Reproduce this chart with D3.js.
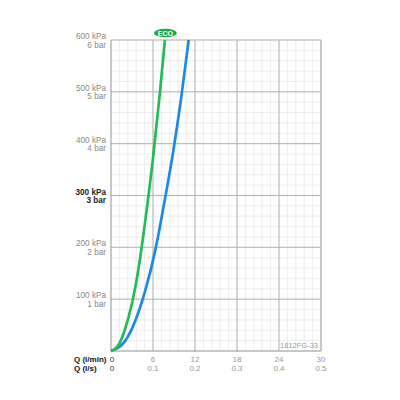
<!DOCTYPE html>
<html>
<head>
<meta charset="utf-8">
<script src="https://cdn.jsdelivr.net/npm/d3@7"></script>
<style>
  body { margin: 0; background: #fff; }
  text { font-family: "Liberation Sans", Arial, sans-serif; }
</style>
</head>
<body>
<div class="chart"></div>
<script>
const WIDTH = 400;
const HEIGHT = 400;
const LEFT = 111, RIGHT = 321, TOP = 40, BOTTOM = 351;

// pressure ticks (kPa) and their bar labels
var pressureTicks = [100, 200, 300, 400, 500, 600];
var barLabels = ['1 bar', '2 bar', '3 bar', '4 bar', '5 bar', '6 bar'];
// flow ticks
var flowTicks = [0, 6, 12, 18, 24, 30];
var flowLsLabels = ['0', '0.1', '0.2', '0.3', '0.4', '0.5'];

// ECO curve (green)
var ecoQ = [0, 1, 2, 3, 4, 5, 6, 7, 7.7];
var ecoP = [0, 10, 42, 92, 165, 262, 372, 500, 600];
// standard curve (blue)
var stdQ = [0, 2, 3.4, 4.8, 6.4, 7.6, 8.9, 10, 11.1];
var stdP = [0, 19, 56, 112, 199, 285, 386, 486, 600];

var translate = function (x, y) {
  return 'translate(' + x + ',' + y + ')';
};

var xScale = d3.scaleLinear().domain([0, 30]).range([LEFT, RIGHT]);
var yScale = d3.scaleLinear().domain([0, 600]).range([BOTTOM, TOP]);

var svg = d3.select('.chart').append('svg')
  .attr('width', WIDTH)
  .attr('height', HEIGHT);

// minor grid
var minorX = d3.range(0, 30.001, 1.2);
var minorY = d3.range(0, 600.001, 20);
svg.append('g').selectAll('line').data(minorX)
  .enter().append('line')
  .attr('x1', d => xScale(d)).attr('x2', d => xScale(d))
  .attr('y1', TOP).attr('y2', BOTTOM)
  .attr('stroke', '#e8e8e8').attr('stroke-width', 0.8);
svg.append('g').selectAll('line').data(minorY)
  .enter().append('line')
  .attr('x1', LEFT).attr('x2', RIGHT)
  .attr('y1', d => yScale(d)).attr('y2', d => yScale(d))
  .attr('stroke', '#e8e8e8').attr('stroke-width', 0.8);

// major grid
svg.append('g').selectAll('line').data(flowTicks.slice(1, -1))
  .enter().append('line')
  .attr('x1', d => xScale(d)).attr('x2', d => xScale(d))
  .attr('y1', TOP).attr('y2', BOTTOM)
  .attr('stroke', '#b5b5b5').attr('stroke-width', 1);
svg.append('g').selectAll('line').data(pressureTicks)
  .enter().append('line')
  .attr('x1', LEFT).attr('x2', RIGHT)
  .attr('y1', d => yScale(d)).attr('y2', d => yScale(d))
  .attr('stroke', '#b5b5b5').attr('stroke-width', 1);

// borders
svg.append('line')
  .attr('x1', RIGHT).attr('x2', RIGHT).attr('y1', TOP).attr('y2', BOTTOM)
  .attr('stroke', '#c8c8c8').attr('stroke-width', 2);
svg.append('line')
  .attr('x1', LEFT).attr('x2', LEFT).attr('y1', TOP).attr('y2', BOTTOM)
  .attr('stroke', '#999').attr('stroke-width', 1);
svg.append('line')
  .attr('x1', LEFT).attr('x2', RIGHT).attr('y1', BOTTOM).attr('y2', BOTTOM)
  .attr('stroke', '#999').attr('stroke-width', 1);

// y labels
var yl = svg.append('g');
pressureTicks.forEach(function (p, i) {
  var bold = p === 300;
  yl.append('text')
    .attr('x', 106).attr('y', yScale(p) - 1)
    .attr('text-anchor', 'end')
    .attr('font-size', 8.2)
    .attr('font-weight', bold ? 'bold' : 'normal')
    .attr('fill', bold ? '#222' : '#888')
    .text(p + ' kPa');
  yl.append('text')
    .attr('x', 106).attr('y', yScale(p) + 7.5)
    .attr('text-anchor', 'end')
    .attr('font-size', 8.2)
    .attr('font-weight', bold ? 'bold' : 'normal')
    .attr('fill', bold ? '#222' : '#888')
    .text(barLabels[i]);
});

// x labels
var xl = svg.append('g');
xl.append('text').attr('x', 74).attr('y', 362)
  .attr('font-size', 8).attr('font-weight', 'bold').attr('fill', '#111')
  .text('Q (l/min)');
xl.append('text').attr('x', 74).attr('y', 370.5)
  .attr('font-size', 8).attr('font-weight', 'bold').attr('fill', '#111')
  .text('Q (l/s)');
flowTicks.forEach(function (q, i) {
  var c = q === 0 ? '#333' : '#999';
  xl.append('text').attr('x', xScale(q) + (q === 0 ? 1 : 0)).attr('y', 362)
    .attr('text-anchor', 'middle').attr('font-size', 8).attr('fill', c)
    .text(q);
  xl.append('text').attr('x', xScale(q) + (q === 0 ? 1 : 0)).attr('y', 370.5)
    .attr('text-anchor', 'middle').attr('font-size', 8).attr('fill', c)
    .text(flowLsLabels[i]);
});

svg.append('text').attr('x', 318).attr('y', 348)
  .attr('text-anchor', 'end').attr('font-size', 7.5).attr('fill', '#999')
  .text('1812FG-33');

// curves
var line = d3.line()
  .x(d => xScale(d[0]))
  .y(d => yScale(d[1]))
  .curve(d3.curveMonotoneX);

svg.append('path')
  .attr('d', line(stdQ.map((q, i) => [q, stdP[i]])))
  .attr('fill', 'none').attr('stroke', '#1e88e5').attr('stroke-width', 2.7);
svg.append('path')
  .attr('d', line(ecoQ.map((q, i) => [q, ecoP[i]])))
  .attr('fill', 'none').attr('stroke', '#22bb55').attr('stroke-width', 2.7);

// ECO badge
var bx = xScale(ecoQ[ecoQ.length - 1]) + 0.5;
svg.append('ellipse')
  .attr('cx', bx).attr('cy', 33).attr('rx', 11.5).attr('ry', 4.3)
  .attr('fill', '#1fa84c');
svg.append('text')
  .attr('x', bx).attr('y', 35.6)
  .attr('text-anchor', 'middle').attr('font-size', 7).attr('font-weight', 'bold')
  .attr('fill', '#fff').text('ECO');
</script>
</body>
</html>
